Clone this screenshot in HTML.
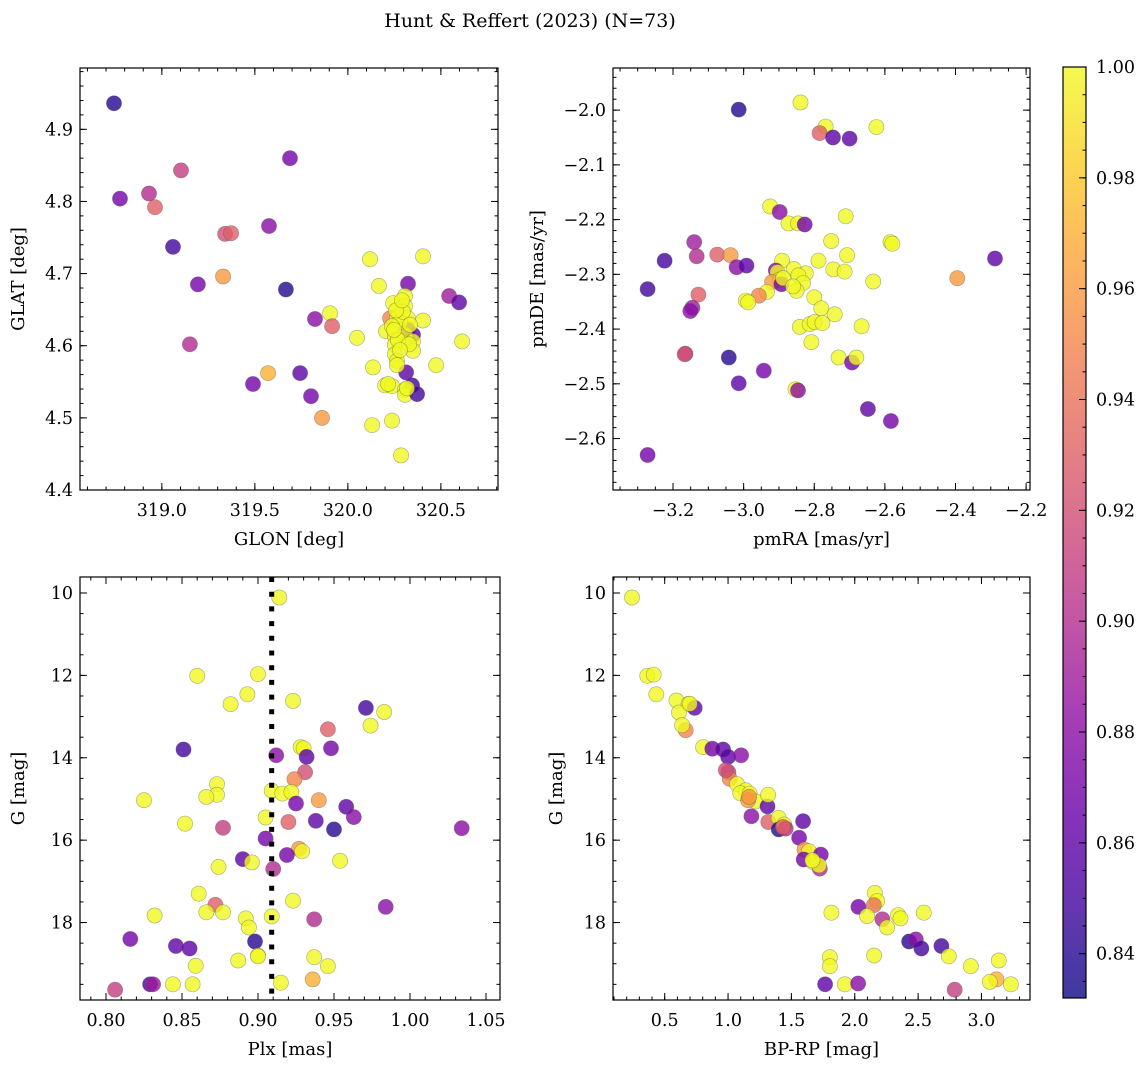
<!DOCTYPE html>
<html><head><meta charset="utf-8">
<style>
body{margin:0;background:#fff;}
svg{display:block;font-family:"DejaVu Serif","Liberation Serif",serif;}
</style></head>
<body>
<svg id="fig" width="1148" height="1067" viewBox="0 0 1148 1067">
<defs>
<linearGradient id="plasma" x1="0" y1="1" x2="0" y2="0">
<stop offset="0" stop-color="#0d0887"/><stop offset="0.1" stop-color="#41049d"/><stop offset="0.2" stop-color="#6a00a8"/><stop offset="0.3" stop-color="#8f0da4"/><stop offset="0.4" stop-color="#b12a90"/><stop offset="0.5" stop-color="#cc4778"/><stop offset="0.6" stop-color="#e16462"/><stop offset="0.7" stop-color="#f2844b"/><stop offset="0.8" stop-color="#fca636"/><stop offset="0.9" stop-color="#fcce25"/><stop offset="1" stop-color="#f0f921"/>
</linearGradient>
</defs>
<text x="530" y="27" font-size="19" text-anchor="middle">Hunt &amp; Reffert (2023) (N=73)</text>
</svg>
<script>
// ---- data ----
const p1x=[318.743,318.775,318.931,318.963,319.103,319.060,319.194,319.151,319.340,319.372,319.329,319.576,319.689,319.667,319.490,319.571,319.743,319.802,319.861,319.823,319.904,319.915,320.049,320.119,320.404,320.167,320.323,320.544,320.598,320.243,320.307,320.307,320.227,320.264,320.323,320.404,320.205,320.280,320.323,320.350,320.253,320.307,320.350,320.253,320.350,320.253,320.264,320.614,320.474,320.135,320.313,320.200,320.237,320.345,320.307,320.307,320.372,320.130,320.237,320.286,320.280,320.237,320.296,320.269,320.329,320.280,320.216,320.318,320.259,320.334,320.291,320.264,320.248];
const p1y=[4.936,4.804,4.811,4.792,4.843,4.737,4.685,4.602,4.755,4.756,4.696,4.766,4.860,4.678,4.547,4.562,4.562,4.530,4.500,4.637,4.645,4.627,4.611,4.720,4.724,4.683,4.686,4.669,4.660,4.659,4.669,4.655,4.638,4.638,4.638,4.635,4.620,4.622,4.622,4.615,4.613,4.615,4.606,4.601,4.593,4.588,4.579,4.606,4.573,4.570,4.563,4.545,4.544,4.545,4.539,4.532,4.533,4.490,4.496,4.448,4.633,4.627,4.647,4.608,4.602,4.594,4.547,4.541,4.649,4.629,4.663,4.573,4.622];
const p1c=[.84,.87,.90,.93,.91,.85,.87,.90,.92,.93,.96,.88,.87,.84,.87,.97,.86,.87,.96,.88,1,.93,1,1,1,1,.87,.89,.86,1,1,1,.95,1,1,1,1,1,.87,.86,1,1,1,1,1,1,1,1,1,1,.86,1,1,.85,1,1,.85,1,1,1,1,1,1,1,1,1,1,1,1,1,1,1,1];

const p2x=[-3.014,-2.839,-2.768,-2.785,-2.747,-2.700,-2.624,-2.925,-2.898,-2.873,-2.846,-2.827,-2.711,-2.752,-2.584,-2.579,-3.140,-3.133,-3.224,-3.075,-3.037,-3.020,-2.992,-2.891,-2.788,-2.707,-2.288,-2.395,-3.272,-2.909,-2.904,-2.858,-2.824,-2.845,-2.746,-2.714,-2.898,-2.919,-2.893,-2.832,-2.934,-2.957,-2.850,-2.633,-3.128,-2.994,-2.987,-2.800,-2.780,-2.742,-3.145,-3.151,-2.841,-2.813,-2.799,-2.777,-2.666,-2.808,-3.165,-3.042,-2.943,-3.014,-2.731,-2.693,-2.681,-2.853,-2.846,-2.648,-2.583,-3.272,-2.888,-2.860,-3.167];
const p2y=[-1.999,-1.986,-2.030,-2.042,-2.050,-2.052,-2.031,-2.176,-2.186,-2.207,-2.207,-2.209,-2.194,-2.239,-2.241,-2.244,-2.241,-2.267,-2.275,-2.264,-2.265,-2.287,-2.284,-2.275,-2.275,-2.265,-2.271,-2.307,-2.327,-2.293,-2.296,-2.290,-2.298,-2.302,-2.291,-2.295,-2.310,-2.314,-2.318,-2.316,-2.332,-2.339,-2.330,-2.313,-2.337,-2.348,-2.351,-2.342,-2.362,-2.373,-2.361,-2.367,-2.396,-2.391,-2.387,-2.389,-2.395,-2.424,-2.445,-2.452,-2.476,-2.499,-2.452,-2.461,-2.452,-2.510,-2.512,-2.546,-2.568,-2.630,-2.307,-2.322,-2.446];
const p2c=[.84,1,1,.93,.86,.86,1,1,.88,1,1,.87,1,1,1,1,.89,.90,.85,.93,.96,.88,.86,1,1,1,.86,.96,.85,.88,1,1,1,1,1,1,1,.96,.87,1,1,.95,1,1,.93,1,1,1,1,1,.89,.88,1,1,1,1,1,1,.91,.84,.87,.86,1,.87,1,1,.88,.86,.87,.87,1,1,.92];

const p3x=[0.914,0.860,0.900,0.893,0.882,0.923,0.971,0.983,0.974,0.946,0.851,0.928,0.930,0.948,0.912,0.932,0.931,0.924,0.873,0.873,0.866,0.909,0.916,0.922,0.825,0.925,0.940,0.958,0.963,0.938,0.920,0.905,0.852,0.877,0.950,1.034,0.905,0.927,0.929,0.919,0.890,0.896,0.874,0.910,0.954,0.861,0.923,0.872,0.866,0.877,0.832,0.892,0.894,0.909,0.937,0.984,0.816,0.846,0.855,0.898,0.900,0.887,0.937,0.946,0.859,0.806,0.829,0.831,0.844,0.857,0.915,0.936,0.900];
const p3y=[10.11,12.01,11.97,12.46,12.70,12.62,12.79,12.89,13.22,13.31,13.80,13.74,13.77,13.77,13.94,13.98,14.35,14.52,14.64,14.90,14.95,14.80,14.87,14.83,15.03,15.11,15.03,15.19,15.44,15.53,15.56,15.45,15.60,15.70,15.74,15.71,15.96,16.21,16.27,16.36,16.46,16.54,16.65,16.70,16.50,17.30,17.47,17.57,17.75,17.75,17.83,17.90,18.12,17.85,17.92,17.62,18.40,18.57,18.63,18.46,18.80,18.92,18.84,19.06,19.05,19.63,19.50,19.50,19.50,19.50,19.46,19.38,18.82];
const p3c=[1,1,1,1,1,1,.85,1,1,.93,.85,1,1,.87,.88,.86,.92,.95,1,1,1,1,1,1,1,.87,.96,.86,.88,.86,.93,1,1,.91,.84,.88,.87,.96,1,.87,.86,1,1,.90,1,1,1,.93,1,1,1,1,1,1,.90,.88,.87,.86,.86,.84,1,1,1,1,1,.91,.85,.89,1,1,1,.97,1];

const p4x=[0.242,0.363,0.413,0.434,0.592,0.689,0.737,0.613,0.666,0.637,0.803,0.876,0.961,1.000,1.103,1.003,1.013,1.071,1.139,1.097,1.171,1.218,1.158,1.311,1.316,1.184,1.318,1.400,1.400,1.442,1.455,1.592,1.561,1.603,1.639,1.732,1.597,1.671,1.724,1.718,2.158,2.176,2.150,2.029,1.816,2.097,2.218,2.255,2.342,2.361,2.545,2.429,2.482,2.526,2.684,2.742,2.916,3.137,1.803,1.803,2.153,1.766,1.921,2.026,2.789,3.118,3.066,3.232,0.982,1.166,1.434,1.666,0.697];
const p4y=[10.11,12.01,11.98,12.46,12.61,12.69,12.79,12.90,13.33,13.21,13.74,13.78,13.80,13.98,13.94,14.35,14.51,14.64,14.79,14.86,14.87,15.06,15.03,15.18,14.90,15.42,15.56,15.46,15.74,15.62,15.72,15.54,15.94,16.23,16.27,16.35,16.47,16.53,16.69,16.61,17.28,17.48,17.58,17.62,17.76,17.84,17.92,18.12,17.82,17.90,17.76,18.46,18.41,18.63,18.57,18.82,19.06,18.92,18.84,19.06,18.80,19.50,19.50,19.48,19.63,19.38,19.44,19.50,14.30,14.95,15.68,16.49,12.69];
const p4c=[1,1,1,1,1,1,.86,1,.95,1,1,.87,.86,.86,.88,.91,.95,1,1,1,1,1,.96,.86,1,.88,.93,1,.84,1,.90,.86,.87,.96,1,.87,.87,1,.90,1,1,1,.94,.87,1,1,.90,1,1,1,1,.84,.88,.85,.85,1,1,1,1,1,1,.86,1,.88,.91,.97,1,1,.92,.96,.93,1,1];

const cbTicks=[0.84,0.86,0.88,0.90,0.92,0.94,0.96,0.98,1.00];
const cmin=0.832, cmax=1.0;

// ---- helpers ----
const NS="http://www.w3.org/2000/svg";
const svg=document.getElementById('fig');
function mk(tag,attrs,parent){const e=document.createElementNS(NS,tag);for(const k in attrs)e.setAttribute(k,attrs[k]);(parent||svg).appendChild(e);return e;}
const stops=[[13,8,135],[65,4,157],[106,0,168],[143,13,164],[177,42,144],[204,71,120],[225,100,98],[242,132,75],[252,166,54],[252,206,37],[240,249,33]];
function plasma(v){let t=(v-cmin)/(cmax-cmin);t=Math.max(0,Math.min(1,t))*10;const i=Math.min(9,Math.floor(t)),f=t-i;const a=stops[i],b=stops[i+1];return 'rgb('+a.map((x,k)=>Math.round(x+(b[k]-x)*f)).join(',')+')';}
const TF=17.5, LF=18;

function panel(o){
  const g=mk('g',{});
  
  
  const sx=v=>o.x+(v-o.x0)/(o.x1-o.x0)*o.w;
  const sy=o.inv?(v=>o.y+(v-o.y0)/(o.y1-o.y0)*o.h):(v=>o.y+o.h-(v-o.y0)/(o.y1-o.y0)*o.h);
  const pg=mk('g',{},g);
  
  
  for(let i=0;i<o.xs.length;i++){
    const c=mk('circle',{cx:sx(o.xs[i]).toFixed(1),cy:sy(o.ys[i]).toFixed(1),r:7.6,fill:plasma(o.cs[i]),'fill-opacity':0.8,stroke:'#555','stroke-opacity':0.5,'stroke-width':0.6},pg);
    
    
  }
  if(o.extra)o.extra(g,sx,sy);
  const fr=mk('rect',{x:o.x,y:o.y,width:o.w,height:o.h,fill:'none',stroke:'#000','stroke-width':1.2},g);
  
  
  const tg=mk('g',{stroke:'#000','stroke-width':1},g);
  for(let v=Math.ceil(o.x0/o.xm-1e-6)*o.xm;v<=o.x1+1e-9;v+=o.xm){const px=sx(v);mk('line',{x1:px,y1:o.y+o.h,x2:px,y2:o.y+o.h-3.5},tg);mk('line',{x1:px,y1:o.y,x2:px,y2:o.y+3.5},tg);}
  for(let v=Math.ceil(Math.min(o.y0,o.y1)/o.ym-1e-6)*o.ym;v<=Math.max(o.y0,o.y1)+1e-9;v+=o.ym){const py=sy(v);mk('line',{x1:o.x,y1:py,x2:o.x+3.5,y2:py},tg);mk('line',{x1:o.x+o.w,y1:py,x2:o.x+o.w-3.5,y2:py},tg);}
  o.xt.forEach(v=>{const px=sx(v);mk('line',{x1:px,y1:o.y+o.h,x2:px,y2:o.y+o.h-7},tg);mk('line',{x1:px,y1:o.y,x2:px,y2:o.y+7},tg);
    const t=mk('text',{x:px,y:o.y+o.h+26,'font-size':TF,'text-anchor':'middle',stroke:'none',fill:'#000'},g);t.textContent=o.xf(v);
    });
  o.yt.forEach(v=>{const py=sy(v);mk('line',{x1:o.x,y1:py,x2:o.x+7,y2:py},tg);mk('line',{x1:o.x+o.w,y1:py,x2:o.x+o.w-7,y2:py},tg);
    const t=mk('text',{x:o.x-7,y:py+6,'font-size':TF,'text-anchor':'end',fill:'#000'},g);t.textContent=o.yf(v);
    });
  const xl=mk('text',{x:o.x+o.w/2,y:o.y+o.h+55,'font-size':LF,'text-anchor':'middle'},g);xl.textContent=o.xl;
  
  const ylx=o.ylx;const yly=o.y+o.h/2;
  const yl=mk('text',{x:ylx,y:yly,'font-size':LF,'text-anchor':'middle',transform:'rotate(-90 '+ylx+' '+yly+')'},g);yl.textContent=o.yl;
  
}
const neg=v=>(v<0?'\u2212':'')+Math.abs(v).toFixed(1);
panel({name:'glon-glat-panel',x:80,y:68,w:418,h:422,x0:318.56,x1:320.807,y0:4.4,y1:4.985,xs:p1x,ys:p1y,cs:p1c,
  xt:[319.0,319.5,320.0,320.5],xm:0.1,xf:v=>v.toFixed(1),yt:[4.4,4.5,4.6,4.7,4.8,4.9],ym:0.02,yf:v=>v.toFixed(1),xl:'GLON [deg]',yl:'GLAT [deg]',ylx:24});
panel({name:'pm-panel',x:613,y:68,w:417,h:422,x0:-3.37,x1:-2.189,y0:-2.694,y1:-1.923,xs:p2x,ys:p2y,cs:p2c,
  xt:[-3.2,-3.0,-2.8,-2.6,-2.4,-2.2],xm:0.05,xf:neg,yt:[-2.6,-2.5,-2.4,-2.3,-2.2,-2.1,-2.0],ym:0.02,yf:neg,xl:'pmRA [mas/yr]',yl:'pmDE [mas/yr]',ylx:543});
panel({name:'plx-g-panel',x:80,y:577,w:420,h:423,x0:0.7829,x1:1.0592,y0:9.612,y1:19.88,inv:true,xs:p3x,ys:p3y,cs:p3c,
  xt:[0.80,0.85,0.90,0.95,1.00,1.05],xm:0.01,xf:v=>v.toFixed(2),yt:[10,12,14,16,18],ym:0.5,yf:v=>String(v),xl:'Plx [mas]',yl:'G [mag]',ylx:24,
  extra:(g,sx,sy)=>{const l=mk('line',{x1:sx(0.909),x2:sx(0.909),y1:577,y2:1000,stroke:'#000','stroke-width':5,'stroke-dasharray':'5 9.7'},g);
    }});
panel({name:'cmd-panel',x:613,y:577,w:417,h:423,x0:0.092,x1:3.383,y0:9.612,y1:19.88,inv:true,xs:p4x,ys:p4y,cs:p4c,
  xt:[0.5,1.0,1.5,2.0,2.5,3.0],xm:0.1,xf:v=>v.toFixed(1),yt:[10,12,14,16,18],ym:0.5,yf:v=>String(v),xl:'BP-RP [mag]',yl:'G [mag]',ylx:562});

const cb=mk('g',{});


const cbx=1063,cby=67,cbw=23,cbh=931;
const cy=v=>cby+cbh-(v-cmin)/(cmax-cmin)*cbh;
mk('rect',{x:cbx,y:cby,width:cbw,height:cbh,fill:'url(#plasma)','fill-opacity':0.8},cb);
mk('rect',{x:cbx,y:cby,width:cbw,height:cbh,fill:'none',stroke:'#000','stroke-width':1.2},cb);
for(let v=0.835;v<=1.0001;v+=0.005){mk('line',{x1:cbx+cbw,x2:cbx+cbw-3.5,y1:cy(v),y2:cy(v),stroke:'#000'},cb);}
cbTicks.forEach(v=>{mk('line',{x1:cbx+cbw,x2:cbx+cbw-7,y1:cy(v),y2:cy(v),stroke:'#000'},cb);
  const t=mk('text',{x:cbx+cbw+10,y:cy(v)+6,'font-size':TF},cb);t.textContent=v.toFixed(2);
  });
</script>
</body></html>
